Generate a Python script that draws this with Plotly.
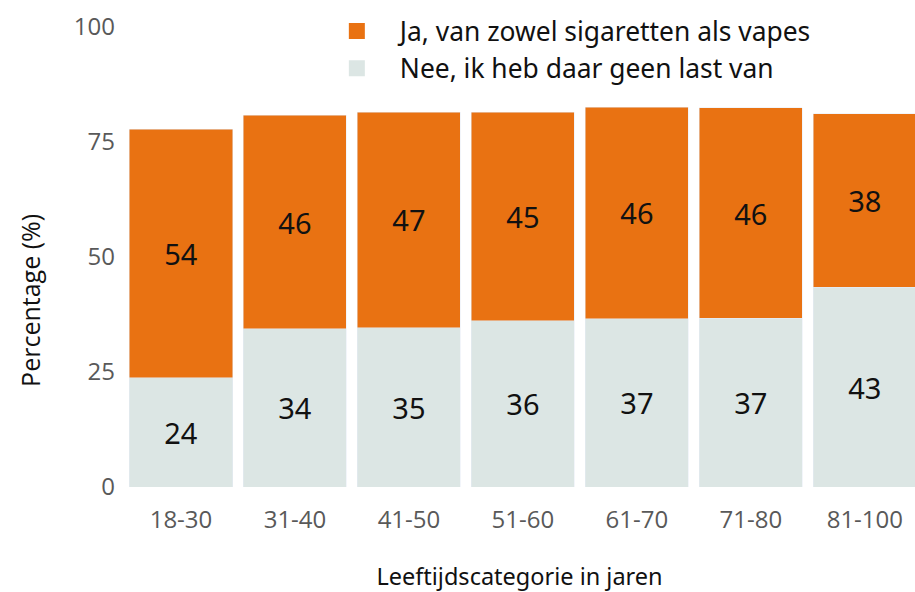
import plotly.graph_objects as go

categories = ["18-30", "31-40", "41-50", "51-60", "61-70", "71-80", "81-100"]
nee_values = [23.8, 34.4, 34.6, 36.1, 36.6, 36.7, 43.4]
ja_values = [54.0, 46.4, 46.9, 45.4, 46.0, 45.7, 37.7]
series_names = ["Ja, van zowel sigaretten als vapes", "Nee, ik heb daar geen last van"]
y_ticks = [0, 25, 50, 75, 100]

ORANGE = "#E97212"
GREY = "#DCE6E4"
LABEL_FONT = "Noto Sans"
AXIS_FONT = "Open Sans"

fig = go.Figure()
fig.add_trace(go.Bar(
    x=categories, y=nee_values, name=series_names[1], marker_color=GREY,
    texttemplate="%{y:.0f}", textposition="inside", insidetextanchor="middle",
    textfont=dict(family=LABEL_FONT, size=29, color="#111111"),
    showlegend=False, hoverinfo="x+y+name"))
fig.add_trace(go.Bar(
    x=categories, y=ja_values, name=series_names[0], marker_color=ORANGE,
    texttemplate="%{y:.0f}", textposition="inside", insidetextanchor="middle",
    textfont=dict(family=LABEL_FONT, size=29, color="#111111"),
    showlegend=False, hoverinfo="x+y+name"))

# legend entries (larger square symbols)
fig.add_trace(go.Scatter(x=[None], y=[None], mode="markers", name=series_names[0],
                         marker=dict(symbol="square", size=16, color=ORANGE),
                         legendgroup="a"))
fig.add_trace(go.Scatter(x=[None], y=[None], mode="markers", name=series_names[1],
                         marker=dict(symbol="square", size=16, color=GREY),
                         legendgroup="b"))

fig.update_layout(
    width=915, height=592,
    margin=dict(l=124, r=0, t=27, b=105),
    barmode="stack", bargap=0.096,
    plot_bgcolor="white", paper_bgcolor="white",
    font=dict(family=AXIS_FONT),
    legend=dict(
        x=0.24, y=1.043, xanchor="left", yanchor="top",
        font=dict(family=LABEL_FONT, size=26.4, color="#111111"),
        itemwidth=76, tracegroupgap=10, bgcolor="rgba(0,0,0,0)",
        traceorder="normal",
    ),
    xaxis=dict(
        type="category", range=[-0.5, 6.44], showline=False, showgrid=False,
        zeroline=False, ticks="", ticklabelstandoff=16,
        tickfont=dict(family=AXIS_FONT, size=24, color="#595959"),
        title=dict(text="Leeftijdscategorie in jaren", standoff=36,
                   font=dict(family=LABEL_FONT, size=23.5, color="#111111")),
    ),
    yaxis=dict(
        range=[0, 100], tickvals=y_ticks, showgrid=False, zeroline=False,
        showline=False, ticks="", ticklabelstandoff=8,
        tickfont=dict(family=AXIS_FONT, size=24, color="#595959"),
    ),
    annotations=[dict(
        text="Percentage (%)", xref="paper", yref="paper", x=-0.119, y=0.4065,
        xanchor="center", yanchor="middle", textangle=-90, showarrow=False,
        font=dict(family=AXIS_FONT, size=25, color="#111111"),
    )],
)

fig.write_html(
    "out.html",
    config={"displayModeBar": False},
    post_script="document.body.style.margin='0';document.body.style.overflow='hidden';",
)
